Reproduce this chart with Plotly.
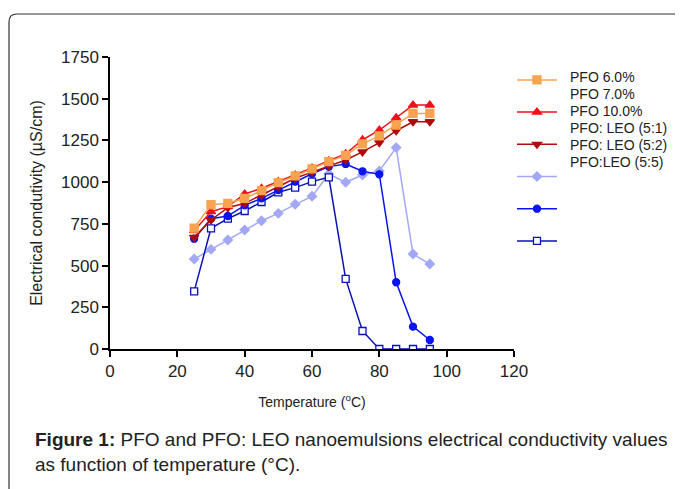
import plotly.graph_objects as go

temps = [25, 30, 35, 40, 45, 50, 55, 60, 65, 70, 75, 80, 85, 90, 95]
pfo_6 = [725, 865, 873, 903, 949, 997, 1037, 1080, 1123, 1161, 1229, 1277, 1342, 1412, 1412]
pfo_10 = [709, 823, 853, 929, 963, 1003, 1043, 1085, 1128, 1169, 1253, 1312, 1386, 1462, 1462]
leo_51 = [669, 773, 847, 873, 923, 973, 1023, 1060, 1097, 1133, 1181, 1237, 1308, 1362, 1362]
leo_55 = [539, 597, 653, 713, 769, 813, 867, 915, 1049, 999, 1043, 1067, 1207, 569, 509]
circle_s = [661, 781, 797, 861, 903, 953, 1003, 1050, 1093, 1109, 1065, 1047, 400, 134, 54]
open_sq = [345, 723, 781, 827, 881, 939, 967, 1003, 1029, 420, 108, 0, 0, 0, 0]

legend_labels = ["PFO 6.0%", "PFO 7.0%", "PFO 10.0%", "PFO: LEO (5:1)", "PFO: LEO (5:2)", "PFO:LEO (5:5)"]
x_ticks = [0, 20, 40, 60, 80, 100, 120]
y_ticks = [0, 250, 500, 750, 1000, 1250, 1500, 1750]

series = [
    (pfo_6, "#F7A34F", "square", 8, "#F7A34F", 0),
    (pfo_10, "#F01018", "triangle-up", 8, "#F01018", 1),
    (leo_51, "#B00A0A", "triangle-down", 8, "#B00A0A", 2),
    (leo_55, "#A3A8F5", "diamond", 7, "#A3A8F5", 3),
    (circle_s, "#0A14F0", "circle", 7, "#0A14F0", 4),
    (open_sq, "#0A12B8", "square", 7, "white", 5),
]

fig = go.Figure()
draw_order = [3, 5, 4, 2, 1, 0]
for idx in draw_order:
    ys, col, sym, size, fill, rank = series[idx]
    fig.add_trace(go.Scatter(
        x=temps, y=ys, mode="lines+markers", name=" ",
        line=dict(color=col, width=1.5),
        marker=dict(symbol=sym, size=size, color=fill, line=dict(color=col, width=1.3)),
        legendgroup="g%d" % rank, legendrank=rank + 1,
    ))

font = "Liberation Sans, Arial, sans-serif"
annotations = []
for i, lab in enumerate(legend_labels):
    annotations.append(dict(
        text=lab, xref="paper", yref="paper", x=1.134, y=0.9325 - i * 0.0585,
        xanchor="left", yanchor="middle", showarrow=False,
        font=dict(family=font, size=14, color="#222"),
    ))
annotations.append(dict(
    text="<b>Figure 1:</b> PFO and PFO: LEO nanoemulsions electrical conductivity values<br>as function of temperature (°C).",
    xref="paper", yref="paper", x=-0.1906, y=-0.266, xanchor="left", yanchor="top",
    align="left", showarrow=False, font=dict(family=font, size=19, color="#222"),
))

# page has an 8px body margin, so the figure is 8px smaller than the window
fig.update_layout(
    width=675, height=481,
    margin=dict(l=102, r=169, t=49, b=140),
    paper_bgcolor="white", plot_bgcolor="white",
    font=dict(family=font, color="#222"),
    showlegend=True,
    legend=dict(x=0.995, y=0.975, xanchor="left", yanchor="top",
                font=dict(size=14), tracegroupgap=11, itemwidth=40,
                bgcolor="rgba(0,0,0,0)", traceorder="grouped"),
    annotations=annotations,
    xaxis=dict(range=[0, 120], tickvals=x_ticks, showline=True, linecolor="black",
               linewidth=1.5, ticks="outside", ticklen=6, tickwidth=1.5, tickcolor="black",
               showgrid=False, zeroline=False, tickfont=dict(size=17),
               title=dict(text="Temperature (<sup>o</sup>C)", font=dict(size=14), standoff=17)),
    yaxis=dict(range=[0, 1750], tickvals=y_ticks, showline=True, linecolor="black",
               linewidth=1.5, ticks="outside", ticklen=6, tickwidth=1.5, tickcolor="black",
               showgrid=False, zeroline=False, tickfont=dict(size=17),
               title=dict(text="Electrical condutivity (µS/cm)", font=dict(size=16), standoff=14)),
    shapes=[dict(type="path", xref="paper", yref="paper", xsizemode="pixel", ysizemode="pixel",
                 xanchor=0, yanchor=0,
                 path="M -101,-150 L -101,327 Q -101,335 -93,335 L 600,335",
                 line=dict(color="#333", width=1.2))],
)
fig.write_html("out.html")
